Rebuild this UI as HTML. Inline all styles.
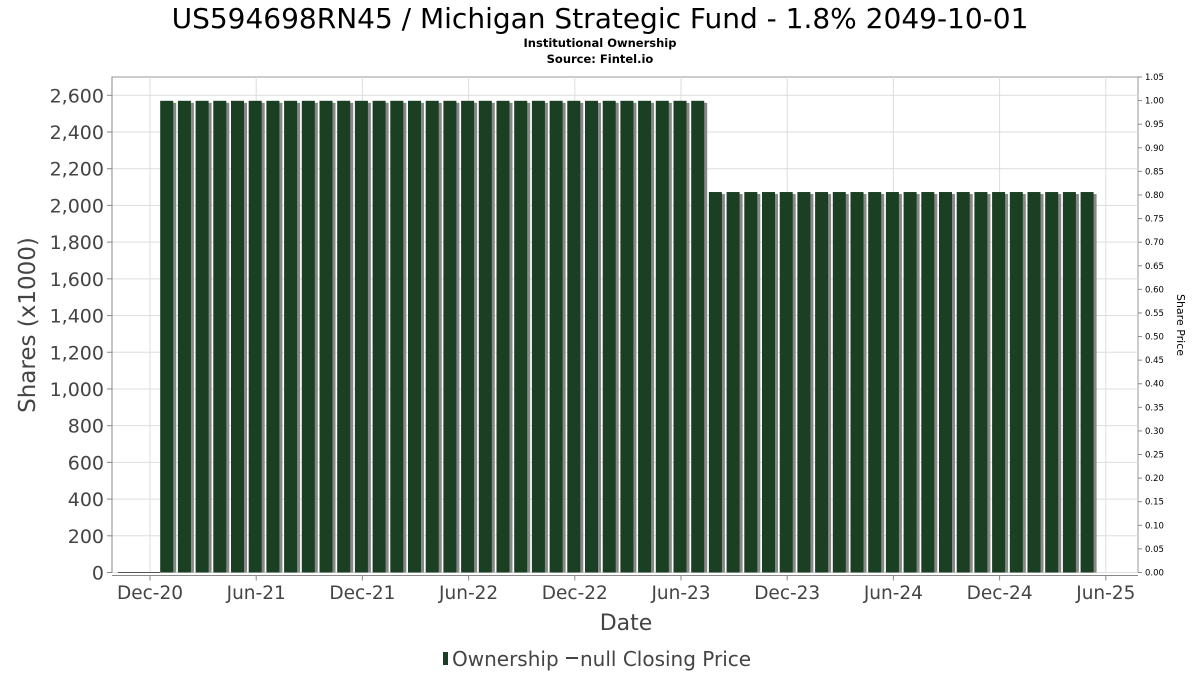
<!DOCTYPE html>
<html><head><meta charset="utf-8"><style>
body{margin:0;background:#fff;font-family:"DejaVu Sans","Liberation Sans",sans-serif}
</style></head><body>
<svg id="c" width="1200" height="675" xmlns="http://www.w3.org/2000/svg">
<text x="600" y="28" text-anchor="middle" font-size="28" fill="#000">US594698RN45 / Michigan Strategic Fund - 1.8% 2049-10-01</text>
<text x="600" y="47" text-anchor="middle" font-size="11.5" font-weight="bold" fill="#000">Institutional Ownership</text>
<text x="600" y="63" text-anchor="middle" font-size="11.5" font-weight="bold" fill="#000">Source: Fintel.io</text>
<g id="grid"></g><g id="bars"></g><g id="axes"></g>
<text transform="translate(35,325) rotate(-90)" text-anchor="middle" font-size="23" fill="#444">Shares (x1000)</text>
<text transform="translate(1177,325) rotate(90)" text-anchor="middle" font-size="11" fill="#000">Share Price</text>
<text x="626" y="630" text-anchor="middle" font-size="22" fill="#444">Date</text>
<g>
<rect x="443" y="652" width="5" height="13" fill="#1a3f22"/>
<text x="452" y="666" font-size="20" fill="#444">Ownership</text>
<line x1="566" y1="658" x2="578" y2="658" stroke="#444" stroke-width="2"/>
<text x="580" y="666" font-size="20" fill="#444">null Closing Price</text>
</g>
</svg>
<script>
const months = ["2021-01","2021-02","2021-03","2021-04","2021-05","2021-06","2021-07","2021-08","2021-09","2021-10","2021-11","2021-12","2022-01","2022-02","2022-03","2022-04","2022-05","2022-06","2022-07","2022-08","2022-09","2022-10","2022-11","2022-12","2023-01","2023-02","2023-03","2023-04","2023-05","2023-06","2023-07","2023-08","2023-09","2023-10","2023-11","2023-12","2024-01","2024-02","2024-03","2024-04","2024-05","2024-06","2024-07","2024-08","2024-09","2024-10","2024-11","2024-12","2025-01","2025-02","2025-03","2025-04","2025-05"];
const shares = [2570,2570,2570,2570,2570,2570,2570,2570,2570,2570,2570,2570,2570,2570,2570,2570,2570,2570,2570,2570,2570,2570,2570,2570,2570,2570,2570,2570,2570,2570,2570,2073,2073,2073,2073,2073,2073,2073,2073,2073,2073,2073,2073,2073,2073,2073,2073,2073,2073,2073,2073,2073,2073];
const leftTicks = [0,200,400,600,800,1000,1200,1400,1600,1800,2000,2200,2400,2600];
const rightTicks = [0,0.05,0.1,0.15,0.2,0.25,0.3,0.35,0.4,0.45,0.5,0.55,0.6,0.65,0.7,0.75,0.8,0.85,0.9,0.95,1.0,1.05];
const xTickLabels = ["Dec-20","Jun-21","Dec-21","Jun-22","Dec-22","Jun-23","Dec-23","Jun-24","Dec-24","Jun-25"];
const xTickMonths = ["2020-12","2021-06","2021-12","2022-06","2022-12","2023-06","2023-12","2024-06","2024-12","2025-06"];

const NS="http://www.w3.org/2000/svg";
const L=112,R=1138,T=77,B=572.5;
function mi(s){const [y,m]=s.split("-").map(Number);return y*12+m-1;}
const m0=mi("2020-12");
function xs(s){return 150+(mi(s)-m0)*17.7;}
function ys(v){return B-v*(B-95.3)/2600;}
function yr(v){return B-v*(B-T)/1.05;}
function mk(tag,attrs,parent){const e=document.createElementNS(NS,tag);for(const k in attrs)e.setAttribute(k,attrs[k]);parent.appendChild(e);return e;}
const grid=document.getElementById("grid"),bars=document.getElementById("bars"),axes=document.getElementById("axes");
mk("rect",{x:L,y:T,width:R-L,height:B-T,fill:"#fff",stroke:"#999"},grid);
leftTicks.forEach(v=>{
  const y=ys(v);
  const g=mk("line",{x1:L,x2:R,y1:y,y2:y,stroke:"#ddd"},grid);
  
  
  mk("line",{x1:L-5,x2:L,y1:y,y2:y,stroke:"#888"},axes);
  const t=mk("text",{x:L-8,y:y+7,"text-anchor":"end","font-size":"19",fill:"#444"},axes);
  t.textContent=v.toLocaleString("en-US");
  
  
});
rightTicks.forEach(v=>{
  const y=yr(v);
  mk("line",{x1:R,x2:R+4,y1:y,y2:y,stroke:"#888"},axes);
  const t=mk("text",{x:R+7,y:y+3,"font-size":"8.5",fill:"#000"},axes);
  t.textContent=v.toFixed(2);
  
  
});
xTickMonths.forEach((m,i)=>{
  const x=xs(m);
  mk("line",{x1:x,x2:x,y1:T,y2:B,stroke:"#ddd"},grid);
  mk("line",{x1:x,x2:x,y1:B+3,y2:B+8,stroke:"#888"},axes);
  const t=mk("text",{x:x,y:599,"text-anchor":"middle","font-size":"18.5",fill:"#444"},axes);
  t.textContent=xTickLabels[i];
  
  
});
mk("line",{x1:L,x2:R,y1:B+3,y2:B+3,stroke:"#888"},axes);
mk("line",{x1:L,x2:L,y1:T,y2:B,stroke:"#888"},axes);
mk("line",{x1:118,x2:160,y1:B,y2:B,stroke:"#555"},axes);
months.forEach((m,i)=>{
  const cx=xs(m)-1,w=13,y=ys(shares[i]);
  const s=mk("rect",{x:cx-w/2+3,y:y+2,width:w,height:B-y-2,fill:"#888"},bars);
  
  
  const b=mk("rect",{x:cx-w/2,y:y,width:w,height:B-y,fill:"#1a3f22"},bars);
  
  
});
</script>
</body></html>
